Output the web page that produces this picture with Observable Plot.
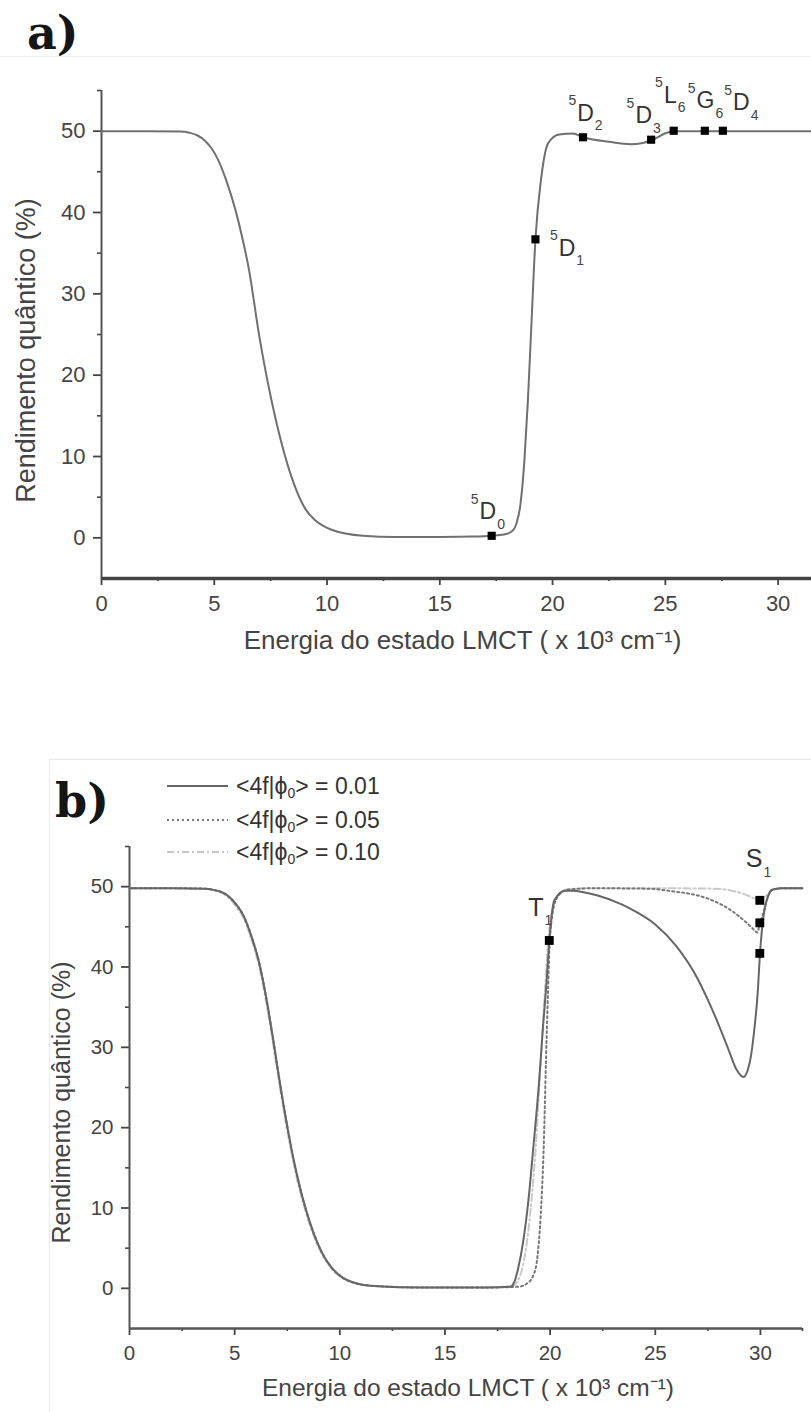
<!DOCTYPE html>
<html>
<head>
<meta charset="utf-8">
<script src="https://cdn.jsdelivr.net/npm/d3@7"></script>
<script src="https://cdn.jsdelivr.net/npm/@observablehq/plot@0.6"></script>
<style>
  html, body { margin: 0; padding: 0; background: #fff; }
  #page { position: relative; width: 811px; height: 1412px; overflow: hidden; background: #fff; font-family: 'Liberation Sans', Arial, sans-serif; }
  .panel-label { position: absolute; font-family: 'DejaVu Serif', serif; font-weight: bold; font-size: 46px; color: #151515; line-height: 1; }
  .legend { position: absolute; left: 0; top: 0; font-family: 'Liberation Sans', Arial, sans-serif; font-size: 23px; color: #333; }
  .legend .row { position: absolute; left: 0; height: 30px; width: 420px; }
  .legend svg { position: absolute; left: 167px; top: 0; }
  .legend span { position: absolute; left: 236px; top: 1px; white-space: nowrap; }
  .legend sub { font-size: 14px; vertical-align: -4px; }
  #chartA, #chartB { position: absolute; left: 0; }
  .frameA { position: absolute; left: 0; top: 56px; width: 811px; height: 0; border-top: 1px solid #f1f1f1; }
  .frameB { position: absolute; left: 49px; top: 759px; width: 780px; height: 700px; border: 1px solid #ebebeb; }
</style>
</head>
<body>
<div id="page">
  <div class="frameA"></div>
  <div class="frameB"></div>
  <div class="panel-label" style="left:27px; top:10px;">a)</div>
  <div class="panel-label" style="left:55px; top:778px;">b)</div>
  <div id="chartA" style="top:0px;"></div>
  <div id="chartB" style="top:700px;"></div>
  <div class="legend" id="legend"></div>
</div>
<script>
// ---------- Panel a data ----------
const aCurveX = [0, 2, 3.5, 3.9, 4.24, 4.6, 4.9, 5.15, 5.55, 5.95, 6.25, 6.53, 6.99, 7.56, 8.25, 9.05, 9.5, 10.2, 11.6, 13, 15, 16.5, 17.3, 17.9, 18.2, 18.4, 18.57, 18.75, 18.9, 19.05, 19.24, 19.49, 19.8, 20.29, 20.9, 21.35, 22.5, 23.45, 24.0, 24.37, 24.7, 25.0, 25.4, 27, 31.5];
const aCurveY = [50, 50, 49.95, 49.8, 49.5, 48.8, 47.8, 46.6, 43.8, 40.2, 36.8, 33.1, 24.9, 16.6, 9.0, 3.5, 2.1, 1.0, 0.25, 0.1, 0.1, 0.15, 0.25, 0.45, 0.8, 1.8, 4.0, 9.5, 16.6, 25.5, 36.7, 44.1, 48.5, 49.6, 49.7, 49.25, 48.7, 48.4, 48.55, 48.85, 49.3, 49.75, 50, 50, 50];
const aLevelX = [17.3, 19.24, 21.35, 24.37, 25.37, 26.75, 27.55];
const aLevelY = [0.25, 36.7, 49.25, 48.95, 50.05, 50.05, 50.05];
const aLabelMain = ["D", "D", "D", "D", "L", "G", "D"];
const aLabelSup = ["5", "5", "5", "5", "5", "5", "5"];
const aLabelSub = ["0", "1", "2", "3", "6", "6", "4"];
const aLabelX = [17.13, 20.64, 21.46, 24.04, 25.22, 26.78, 28.37];
const aLabelY = [3.2, 35.6, 52.2, 51.9, 54.4, 53.75, 53.5];

// ---------- Panel b data ----------
const bSeriesNames = ["<4f|ϕ0> = 0.01", "<4f|ϕ0> = 0.05", "<4f|ϕ0> = 0.10"];
const b01X = [0, 2, 3.6, 4.0, 4.44, 4.8, 5.1, 5.42, 5.8, 6.16, 6.5, 6.8, 7.15, 7.5, 7.76, 8.1, 8.38, 8.75, 9.12, 9.6, 10.1, 10.8, 11.6, 14, 17, 18.1, 18.3, 18.48, 18.7, 18.97, 19.2, 19.46, 19.66, 19.83, 19.96, 20.2, 20.7, 21.0, 22.26, 23.4, 24.0, 25.0, 26.0, 27.0, 27.5, 28.0, 28.5, 28.85, 29.2, 29.4, 29.56, 29.72, 29.86, 29.98, 30.18, 30.35, 30.55, 31, 32];
const b01Y = [49.8, 49.8, 49.75, 49.6, 49.25, 48.6, 47.7, 46.4, 43.8, 40.6, 36.2, 31.5, 25.6, 20.2, 16.6, 12.6, 9.9, 6.9, 4.6, 2.6, 1.4, 0.6, 0.3, 0.1, 0.1, 0.2, 0.8, 2.5, 5.5, 11, 17.5, 25.2, 32.5, 38.1, 43.2, 48.3, 49.5, 49.5, 48.9, 47.8, 47.0, 45.3, 42.6, 38.6, 35.9, 32.9, 29.6, 27.3, 26.3, 27.2, 29.1, 32.5, 36.4, 41.7, 47.0, 48.7, 49.6, 49.8, 49.8];
const b05X = [0, 2, 3.6, 4.0, 4.44, 4.8, 5.1, 5.42, 5.8, 6.16, 6.5, 6.8, 7.15, 7.5, 7.76, 8.1, 8.38, 8.75, 9.12, 9.6, 10.1, 10.8, 11.6, 14, 17, 18.5, 18.9, 19.2, 19.4, 19.55, 19.7, 19.8, 19.9, 20.0, 20.3, 20.8, 22, 24.64, 25.87, 27.02, 27.8, 28.6, 29.3, 29.71, 29.85, 29.98, 30.18, 30.35, 30.55, 31, 32];
const b05Y = [49.8, 49.8, 49.75, 49.6, 49.25, 48.6, 47.7, 46.4, 43.8, 40.6, 36.2, 31.5, 25.6, 20.2, 16.6, 12.6, 9.9, 6.9, 4.6, 2.6, 1.4, 0.6, 0.3, 0.1, 0.1, 0.2, 0.6, 1.6, 4, 9, 18, 28, 37, 44, 48.5, 49.6, 49.8, 49.75, 49.4, 48.9, 48.2, 47.05, 45.6, 44.6, 44.3, 45.5, 47.0, 48.7, 49.6, 49.8, 49.8];
const b10X = [0, 2, 3.6, 4.0, 4.44, 4.8, 5.1, 5.42, 5.8, 6.16, 6.5, 6.8, 7.15, 7.5, 7.76, 8.1, 8.38, 8.75, 9.12, 9.6, 10.1, 10.8, 11.6, 14, 17, 18.2, 18.6, 19.0, 19.3, 19.55, 19.75, 19.9, 20.1, 20.4, 20.9, 22, 25, 27.8, 28.8, 29.4, 29.71, 29.9, 30.05, 30.2, 30.4, 30.6, 31, 32];
const b10Y = [49.8, 49.8, 49.75, 49.55, 49.15, 48.4, 47.4, 46.1, 43.4, 40.1, 35.6, 30.9, 25.0, 19.6, 16.1, 12.1, 9.5, 6.6, 4.4, 2.5, 1.3, 0.6, 0.3, 0.1, 0.1, 0.3, 1.8, 8, 17, 28, 37, 43, 47, 49, 49.7, 49.8, 49.8, 49.75, 49.4, 48.9, 48.5, 48.3, 48.4, 48.7, 49.2, 49.7, 49.8, 49.8];
const bStateX = [19.96, 29.97, 29.97, 29.97];
const bStateY = [43.3, 48.3, 45.5, 41.7];
const bLabelMain = ["T", "S"];
const bLabelSub = ["1", "1"];
const bLabelX = [19.32, 29.70];
const bLabelY = [47.4, 53.4];

// ---------- Axis ticks & titles ----------
const yMajorTicks = [0, 10, 20, 30, 40, 50];
const yMinorTicks = [5, 15, 25, 35, 45, 55];
const xMajorTicks = [0, 5, 10, 15, 20, 25, 30];
const xMinorTicksA = [2.5, 7.5, 12.5, 17.5, 22.5, 27.5];
const xMinorTicksB = [2.5, 7.5, 12.5, 17.5, 22.5, 27.5, 32];
const xTitle = "Energia do estado LMCT ( x 10³ cm⁻¹)";
const yTitle = "Rendimento quântico (%)";

const zip = (xs, ys) => xs.map((x, i) => ({x, y: ys[i]}));
const FONT = "'Liberation Sans', Arial, Helvetica, sans-serif";
const CHAR_W = {D: 0.722, L: 0.556, G: 0.778, T: 0.611, S: 0.667};

// term-symbol labels: main letter centred on (x, y), small superscript on the left, subscript on the right
function termLabels(rows, size, smallSize, supShift, subShift) {
  return rows.flatMap(r => {
    const half = CHAR_W[r.main] * size / 2;
    const marks = [Plot.text([r], {x: "x", y: "y", text: "main", fontSize: size, fill: "#333", textAnchor: "middle", lineAnchor: "middle"})];
    if (r.sup) marks.push(Plot.text([r], {x: "x", y: "y", text: "sup", fontSize: smallSize, fill: "#444", textAnchor: "end", lineAnchor: "middle", dx: -half - 1, dy: -supShift}));
    if (r.sub) marks.push(Plot.text([r], {x: "x", y: "y", text: "sub", fontSize: smallSize, fill: "#444", textAnchor: "start", lineAnchor: "middle", dx: half + 1, dy: subShift}));
    return marks;
  });
}

// ---------- Panel a ----------
const aCurve = zip(aCurveX, aCurveY);
const aLevels = zip(aLevelX, aLevelY);
const aLabels = aLabelX.map((x, i) => ({x, y: aLabelY[i], main: aLabelMain[i], sup: aLabelSup[i], sub: aLabelSub[i]}));

const chartA = Plot.plot({
  width: 811, height: 700,
  marginLeft: 101, marginRight: 0, marginTop: 90, marginBottom: 122,
  style: {fontFamily: FONT, fontSize: "22px", color: "#444", background: "transparent", overflow: "visible"},
  x: {domain: [0, 31.48], axis: null},
  y: {domain: [-5, 55], axis: null},
  marks: [
    Plot.axisY(yMajorTicks, {tickSize: 8, tickPadding: 8, fontSize: 22, color: "#444", strokeWidth: 1.8, label: null}),
    Plot.axisY(yMinorTicks, {tickSize: 4, text: null, color: "#444", strokeWidth: 1.6, label: null}),
    Plot.axisX(xMajorTicks, {tickSize: 7, tickPadding: 10, fontSize: 22, color: "#444", strokeWidth: 1.8, label: null}),
    Plot.axisX(xMinorTicksA, {tickSize: 3, text: null, color: "#444", strokeWidth: 1.6, label: null}),
    Plot.ruleX([0], {stroke: "#555", strokeWidth: 2}),
    Plot.ruleY([-5], {stroke: "#444", strokeWidth: 3.5}),
    Plot.line(aCurve, {x: "x", y: "y", stroke: "#707070", strokeWidth: 2, curve: "monotone-x"}),
    Plot.dot(aLevels, {x: "x", y: "y", symbol: "square", r: 4.6, fill: "#000"}),
    ...termLabels(aLabels, 23, 14, 12.5, 12.5),
    Plot.text([xTitle], {text: d => d, frameAnchor: "bottom", dx: 6, dy: 62, fontSize: 26, fill: "#444", textAnchor: "middle", lineAnchor: "middle"}),
    Plot.text([yTitle], {text: d => d, frameAnchor: "left", rotate: -90, dx: -75, dy: 16, fontSize: 27, fill: "#444", textAnchor: "middle", lineAnchor: "middle"})
  ]
});
document.getElementById("chartA").appendChild(chartA);

// ---------- Panel b ----------
const bLines = [zip(b01X, b01Y), zip(b05X, b05Y), zip(b10X, b10Y)];
const bStyles = [
  {stroke: "#666", strokeWidth: 2, dash: null},
  {stroke: "#777", strokeWidth: 2, dash: "2,3"},
  {stroke: "#c9c9c9", strokeWidth: 2, dash: "7,3,2,3"}
];
const bStates = zip(bStateX, bStateY);
const bLabels = bLabelX.map((x, i) => ({x, y: bLabelY[i], main: bLabelMain[i], sup: "", sub: bLabelSub[i]}));

const chartB = Plot.plot({
  width: 811, height: 712,
  marginLeft: 129, marginRight: 9, marginTop: 146, marginBottom: 84,
  style: {fontFamily: FONT, fontSize: "20px", color: "#444", background: "transparent", overflow: "visible"},
  x: {domain: [0, 32], axis: null},
  y: {domain: [-5, 55], axis: null},
  marks: [
    Plot.axisY(yMajorTicks, {tickSize: 8, tickPadding: 8, fontSize: 20.5, color: "#444", strokeWidth: 1.8, label: null}),
    Plot.axisY(yMinorTicks, {tickSize: 4, text: null, color: "#444", strokeWidth: 1.6, label: null}),
    Plot.axisX(xMajorTicks, {tickSize: 7, tickPadding: 10, fontSize: 20.5, color: "#444", strokeWidth: 1.8, label: null}),
    Plot.axisX(xMinorTicksB, {tickSize: 3, text: null, color: "#444", strokeWidth: 1.6, label: null}),
    Plot.ruleX([0], {stroke: "#555", strokeWidth: 2}),
    Plot.ruleY([-5], {stroke: "#555", strokeWidth: 2.5}),
    ...[2, 1, 0].map(k => Plot.line(bLines[k], {x: "x", y: "y", stroke: bStyles[k].stroke, strokeWidth: bStyles[k].strokeWidth, strokeDasharray: bStyles[k].dash, curve: "monotone-x"})),
    Plot.dot(bStates, {x: "x", y: "y", symbol: "square", r: 5, fill: "#000"}),
    ...termLabels(bLabels, 25, 14, 0, 13),
    Plot.text([xTitle], {text: d => d, frameAnchor: "bottom", dx: 2, dy: 60, fontSize: 24.5, fill: "#444", textAnchor: "middle", lineAnchor: "middle"}),
    Plot.text([yTitle], {text: d => d, frameAnchor: "left", rotate: -90, dx: -68, dy: 15, fontSize: 25, fill: "#444", textAnchor: "middle", lineAnchor: "middle"})
  ]
});
document.getElementById("chartB").appendChild(chartB);

// ---------- Legend (panel b) ----------
const legend = document.getElementById("legend");
const legendTops = [772, 806, 838];
bSeriesNames.forEach((name, i) => {
  const row = document.createElement("div");
  row.className = "row";
  row.style.top = legendTops[i] + "px";
  const st = bStyles[i];
  row.innerHTML = `<svg width="62" height="30"><line x1="0" x2="61" y1="14" y2="14" stroke="${st.stroke}" stroke-width="${st.strokeWidth}" ${st.dash ? `stroke-dasharray="${st.dash}"` : ""}/></svg>` +
    `<span>${name.replace("<", "&lt;").replace(">", "&gt;").replace("ϕ0", "ϕ<sub>0</sub>")}</span>`;
  legend.appendChild(row);
});
</script>
</body>
</html>
